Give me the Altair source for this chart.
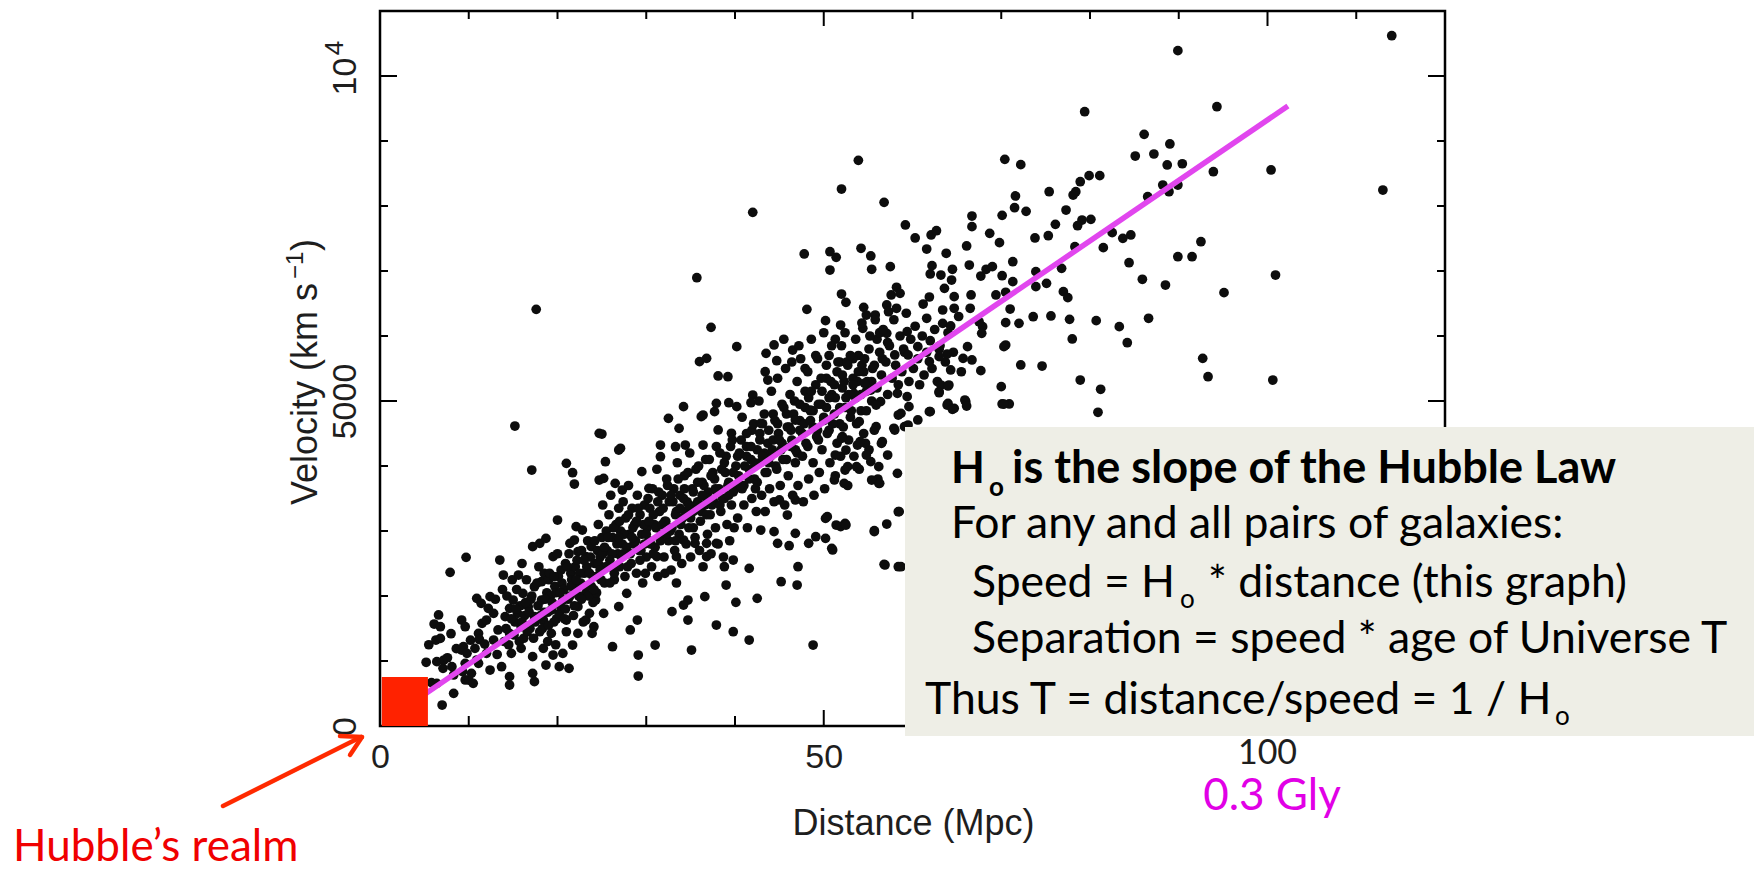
import altair as alt
import pandas as pd

# ---------------- axis values ----------------
x_label_values = [0, 50]
y_label_values = [0, 5000, 10000]
x_minor_ticks = [10, 20, 30, 40, 60, 70, 80, 90, 110]
x_major_ticks = [50, 100]
y_minor_ticks = [1000, 2000, 3000, 4000, 6000, 7000, 8000, 9000]
y_major_ticks = [5000, 10000]

# ---------------- fitted Hubble line (end points) ----------------
line_dist = [4.5, 102.3]
line_vel = [440, 9538]

# ---------------- "Hubble's realm" square ----------------
realm_dist = [0.2, 5.4]
realm_vel = [0, 755]

# ---------------- galaxies (distance Mpc, velocity km/s) ----------------
near_pts = [
    (5.2, 980), (5.5, 1250), (5.8, 667), (6.1, 1569), (6.3, 1323), (6.4, 990), (6.4, 656),
    (6.6, 1708), (6.8, 1528), (6.8, 1348), (7.0, 323), (7.1, 887), (7.2, 1015), (7.6, 1050),
    (7.9, 2364), (8.0, 1420), (8.1, 913), (8.3, 785), (8.3, 502), (8.6, 1190), (9.2, 1169),
    (9.2, 1630), (9.3, 836), (9.4, 1220), (9.6, 708), (9.6, 964), (9.6, 1528), (9.7, 2595),
    (9.8, 1118), (10.0, 707), (10.2, 1320), (10.3, 810), (10.5, 656), (10.7, 1195), (10.9, 1015),
    (10.9, 1964), (11.1, 964), (11.1, 1425), (11.2, 1330), (11.4, 1887), (11.5, 1579),
    (11.8, 1260), (12.0, 1118), (12.0, 1630), (12.2, 1810), (12.4, 861), (12.4, 1990),
    (12.8, 1323), (12.8, 1733),
]

inner_pts = [
    (13.0, 1950), (13.2, 1100), (13.3, 1477), (13.5, 2553), (13.7, 912), (13.8, 2100), (13.9, 2323),
    (14.0, 1300), (14.1, 1682), (14.3, 2000), (14.6, 630), (14.6, 759), (14.6, 1425), (14.6, 1810),
    (14.8, 1118), (14.9, 2250), (15.0, 1938), (15.2, 4615), (15.2, 1600), (15.4, 2100), (15.5, 1733),
    (15.6, 2323), (15.8, 1850), (15.9, 1528), (15.9, 1195), (16.0, 2500), (16.1, 2041), (16.2, 1350),
    (16.3, 1700), (16.5, 2250), (16.7, 1836), (16.9, 1500), (17.0, 1950), (17.1, 3938), (17.2, 2759),
    (17.2, 810), (17.2, 1067), (17.4, 682), (17.4, 1682), (17.4, 2143), (17.6, 6410), (17.8, 1850),
    (17.9, 2450), (18.0, 2810), (18.0, 1450), (18.2, 1938), (18.2, 2220), (18.4, 1630), (18.4, 1195),
    (18.5, 2349), (18.7, 2887), (18.7, 938), (18.8, 2050), (18.9, 1300), (19.0, 2250), (19.2, 2000),
    (19.3, 1784), (19.3, 1425), (19.5, 2605), (19.5, 1092), (19.7, 2150), (19.8, 1250), (19.9, 1650),
    (20.0, 3169), (20.0, 2650), (20.2, 1733), (20.2, 913), (20.4, 2400), (20.5, 2200), (20.6, 1938),
    (20.6, 1118), (20.9, 2500), (21.0, 4041), (21.0, 1630), (21.0, 1450), (21.2, 1950), (21.3, 887),
    (21.3, 2650), (21.4, 2810), (21.5, 2349), (21.7, 3897), (21.7, 1246), (21.8, 1700), (21.9, 3723),
    (21.9, 2861), (21.9, 2143), (22.0, 2450), (22.1, 3067), (22.3, 2682), (22.3, 1836), (22.3, 1425),
    (22.6, 2200), (22.8, 3015), (22.9, 1600), (23.0, 2350), (23.2, 2605), (23.2, 2041), (23.2, 1630),
    (23.4, 2850), (23.6, 1733), (23.8, 2759), (23.8, 2150), (23.9, 1425), (24.0, 1900), (24.1, 1528),
    (24.2, 2500), (24.3, 1938), (24.5, 2700), (24.7, 4502), (24.7, 3784),
]

core_pts = [
    (25.0, 4492), (25.2, 3810), (25.4, 4066), (26.5, 3733), (26.9, 4246), (27.1, 4272), (27.3, 3630),
    (29.5, 3913), (30.3, 3656), (31.6, 4143), (31.6, 4323), (32.5, 4733), (33.3, 4297), (33.7, 4579),
    (34.2, 4913), (34.4, 4323), (35.7, 6897), (36.0, 5605), (36.2, 4759), (36.4, 4784), (36.4, 4323),
    (36.8, 5656), (37.3, 6133), (37.7, 4836), (37.9, 4964), (38.1, 5385), (38.1, 4554), (39.2, 5374),
    (39.3, 4974), (39.6, 4503), (40.2, 5836), (40.2, 4913),
    (25.2, 1733), (26.2, 1220), (26.9, 1836), (27.8, 2041), (28.2, 1477), (29.0, 1630), (29.1, 1092),
    (29.1, 769), (31.0, 1246), (32.9, 1759), (34.7, 1630), (35.1, 1169), (37.9, 1553), (39.8, 1451),
    (36.6, 1990), (34.7, 1938), (34.2, 1861), (39.0, 2169), (33.4, 2200), (36.8, 2810), (35.5, 2810),
    (34.2, 2861), (33.4, 2605), (32.1, 2348), (31.2, 2605), (29.9, 2348), (37.9, 2810), (38.8, 2451),
    (39.8, 2553), (36.8, 2605),
    (24.4, 2300), (24.6, 3100), (24.8, 2600), (25.0, 2900), (25.1, 3400), (25.3, 2200), (25.5, 3000),
    (25.6, 2700), (25.8, 3250), (25.9, 2450), (26.0, 3550), (26.2, 2900), (26.4, 2250), (26.6, 3100),
    (26.8, 2650), (26.9, 3350), (27.0, 2450), (27.1, 3000), (27.3, 2800), (27.4, 3450), (27.6, 2300),
    (27.7, 3200), (27.9, 2650), (28.0, 3700), (28.1, 2950), (28.3, 2500), (28.4, 3350), (28.6, 2800),
    (28.7, 3100), (28.9, 2350), (29.0, 3550), (29.2, 2700), (29.3, 3250), (29.5, 2950), (29.6, 2200),
    (29.8, 3400), (30.0, 2600), (30.1, 3050), (30.3, 2850), (30.4, 3350), (30.6, 2450), (30.7, 3650),
    (30.9, 3100), (31.0, 2750), (31.2, 3950), (31.3, 2300), (31.5, 3300), (31.7, 2950), (31.8, 3550),
    (32.0, 2600), (32.1, 3150), (32.3, 3800), (32.5, 2850), (32.6, 3450), (32.8, 2400), (32.9, 3050),
    (33.1, 3650), (33.2, 2700), (33.4, 3300), (33.5, 4050), (33.7, 2950), (33.8, 3550), (34.0, 2500),
    (34.1, 3200), (34.3, 3850), (34.5, 2800), (34.6, 3450), (34.8, 3050), (34.9, 4200), (35.0, 2600),
    (35.2, 3650), (35.3, 3300), (35.5, 2900), (35.6, 3950), (35.8, 3450), (36.0, 2700), (36.1, 3150),
    (36.3, 3750), (36.4, 2450), (36.6, 3400), (36.7, 4100), (36.9, 2950), (37.0, 3600), (37.2, 3250),
    (37.3, 2650), (37.5, 3900), (37.6, 3450), (37.8, 3050), (37.9, 4300), (38.1, 2800), (38.2, 3650),
    (38.4, 3300), (38.5, 3950), (38.7, 2600), (38.8, 3500), (39.0, 4150), (39.1, 3100), (39.3, 3750),
    (39.4, 2850), (39.6, 3400), (39.7, 4400), (39.9, 3050), (40.0, 3650),
]

dense_pts = [
    (14.2, 1500), (14.5, 1250), (14.8, 1650), (15.1, 1400), (15.3, 1800), (15.7, 1300), (16.0, 1600),
    (16.4, 1900), (16.6, 1450), (16.8, 1750), (17.1, 2000), (17.3, 1350), (17.5, 1600), (17.7, 2200),
    (18.1, 1700), (18.3, 1500), (18.6, 1950), (18.9, 1750), (19.1, 2350), (19.4, 1900), (19.6, 1600),
    (19.8, 2050), (20.1, 2300), (20.3, 1850), (20.7, 2100), (20.8, 1650), (21.1, 2450), (21.4, 2000),
    (21.6, 2250), (21.9, 1850), (22.2, 2550), (22.4, 2000), (22.5, 2350), (22.7, 2700), (23.1, 2150),
    (23.3, 2450), (23.5, 2000), (23.7, 2600), (24.0, 2300), (24.2, 2850), (24.4, 2050), (24.6, 2500),
    (24.9, 2250), (25.1, 2650), (25.4, 2450), (25.7, 2900), (25.9, 2200), (26.1, 2650), (26.3, 3050),
    (26.5, 2450), (26.7, 2800), (27.0, 3150), (27.2, 2600), (27.5, 2950), (27.8, 2750), (28.0, 3250),
    (28.2, 2650), (28.5, 3050), (28.8, 2850), (29.1, 3350), (29.4, 2700), (29.7, 3100), (30.0, 2950),
    (30.2, 3500), (30.5, 2800), (30.8, 3250), (31.1, 3050), (31.4, 3600), (31.6, 2850), (31.9, 3350),
    (32.2, 3150), (32.4, 3700), (32.7, 3000), (33.0, 3450), (33.3, 3250), (33.6, 3800), (33.9, 3100),
    (34.2, 3500), (34.4, 3300), (34.7, 3900), (35.0, 3200), (35.3, 3600), (35.6, 3400), (35.9, 4000),
    (36.2, 3300), (36.5, 3700), (36.8, 3500), (37.1, 4100), (37.4, 3400), (37.7, 3800), (38.0, 3600),
    (38.3, 4200), (38.6, 3500), (38.9, 3900), (39.2, 3700), (39.5, 4300), (39.8, 3600), (40.1, 4000),
    (40.4, 3850), (40.7, 4400), (41.0, 3700), (41.3, 4150), (41.6, 3950), (41.9, 4550), (42.2, 3800),
    (42.5, 4250), (42.8, 4050), (43.1, 4650), (43.4, 3900), (43.7, 4350), (44.0, 4150), (44.3, 4800),
    (44.6, 4000), (44.9, 4500), (45.2, 4250), (45.5, 4900), (45.8, 4100), (46.1, 4600), (46.4, 4400),
    (46.7, 5000), (47.0, 4200), (47.3, 4700), (47.6, 4500), (47.9, 5150), (48.2, 4300), (48.5, 4850),
    (48.8, 4600), (49.1, 5250), (49.4, 4400), (49.7, 4950), (50.0, 4700), (50.3, 5350), (50.6, 4550),
    (50.9, 5100), (51.2, 4800), (51.5, 5450), (51.8, 4650), (52.1, 5200), (52.4, 4900), (52.7, 5550),
    (53.0, 4750), (53.3, 5350), (53.6, 5050), (53.9, 5700), (54.2, 4850), (54.5, 5450), (54.8, 5150),
    (55.1, 5800), (55.4, 5300), (55.7, 5550), (56.0, 5950), (56.6, 5650), (57.2, 5900),
    (18.5, 1750), (19.0, 1550), (19.6, 2300), (20.3, 2050), (20.9, 1800), (21.5, 2150), (22.1, 2250),
    (22.7, 1950), (23.0, 2550), (23.6, 2350), (24.1, 2100), (24.8, 2400), (25.3, 2750), (25.9, 2550),
    (26.4, 2350), (26.9, 2900), (27.4, 2650), (27.9, 2450), (28.4, 2900), (28.9, 3150), (29.3, 2550),
    (29.8, 2800), (30.3, 3150), (30.8, 2650), (31.3, 3450), (31.8, 3100), (32.3, 2950), (32.8, 3550),
    (33.3, 2850), (33.8, 3350), (34.3, 3650), (34.8, 3400), (35.3, 3050), (35.8, 3750), (36.3, 3550),
    (36.8, 3250), (37.3, 3850), (37.8, 3650), (38.3, 3400), (38.8, 4050), (39.3, 3550), (39.8, 3900),
    (40.3, 4150), (40.8, 3650), (41.3, 4300), (41.8, 4100), (42.3, 3650), (42.8, 4500), (43.3, 4200),
    (43.8, 4050), (44.3, 4400), (44.8, 4650), (45.3, 4350), (45.8, 4800), (46.3, 4550), (46.8, 4250),
    (47.3, 4950), (47.8, 4650), (48.3, 5050), (48.8, 4850), (49.3, 4550), (49.8, 5150), (50.3, 4900),
    (50.8, 5300), (51.3, 5050), (51.8, 5600), (52.3, 5300), (52.8, 5100), (53.3, 5650), (53.8, 5300),
    (54.3, 5550),
]

mid_pts = [
    (40.1, 1902), (42.5, 1964), (41.6, 2425), (41.6, 1323), (42.9, 3015), (44.4, 2990), (44.8, 2810),
    (45.2, 2220), (46.1, 2774), (46.8, 2964), (47.0, 2169), (47.1, 2451), (48.3, 2810), (48.8, 1246),
    (49.1, 2912), (50.2, 3194), (50.9, 2733), (51.9, 3067), (52.4, 3118), (55.7, 3005), (56.9, 2477),
    (58.4, 2451), (57.1, 3107), (58.4, 3297), (50.2, 2887), (51.0, 2708), (51.4, 3092), (52.5, 3092),
    (55.7, 2990), (56.8, 2487), (58.7, 2451), (50.4, 3221), (45.9, 3246), (46.8, 3477), (45.0, 3477),
    (58.5, 3298),
    (42.0, 7902), (43.5, 5733), (44.4, 5862), (44.7, 5620), (43.4, 5451), (43.7, 5323), (42.0, 5092),
    (41.8, 4974), (46.5, 5784), (47.8, 7262), (48.1, 6410), (50.2, 6236), (50.7, 7297), (50.7, 7015),
    (51.4, 7210), (51.9, 6169), (52.0, 6646), (52.5, 6518), (52.0, 8261), (53.9, 8702), (54.2, 7349),
    (54.4, 6118), (54.5, 6441), (54.8, 6323), (55.3, 7231), (55.4, 7026), (55.8, 6323), (56.3, 6051),
    (56.8, 8056), (57.1, 6041), (57.1, 6477), (57.3, 6374), (57.5, 7067), (57.6, 6631), (58.2, 6749),
    (58.2, 6426), (58.6, 6656),
    (45.5, 5950), (46.4, 5600), (47.2, 5850), (47.9, 5500), (48.6, 5950), (49.3, 5650), (50.0, 6050),
    (50.6, 5700), (51.3, 5950), (52.0, 5850), (52.6, 5600),
    (40.3, 3200), (40.5, 4200), (40.6, 3700), (40.8, 4750), (41.0, 3400), (41.1, 4000), (41.3, 4500),
    (41.4, 3050), (41.6, 3800), (41.8, 4300), (41.9, 3500), (42.1, 4650), (42.2, 4050), (42.4, 3300),
    (42.5, 3750), (42.7, 5000), (42.8, 4400), (43.0, 3550), (43.1, 4150), (43.3, 4800), (43.4, 3300),
    (43.6, 3900), (43.8, 4550), (43.9, 3650), (44.1, 5150), (44.2, 4250), (44.4, 3450), (44.5, 4700),
    (44.7, 3950), (44.8, 5350), (45.0, 4400), (45.1, 3700), (45.3, 4950), (45.4, 4100), (45.6, 3400),
    (45.7, 5500), (45.9, 4600), (46.0, 3850), (46.2, 5100), (46.3, 4300), (46.5, 3550), (46.6, 4800),
    (46.8, 4050), (47.0, 5300), (47.1, 3700), (47.3, 4550), (47.4, 5650), (47.6, 4150), (47.7, 3450),
    (47.9, 4900), (48.0, 4350), (48.2, 5450), (48.3, 3800), (48.5, 4700), (48.6, 5150), (48.8, 4050),
    (48.9, 3550), (49.1, 5700), (49.2, 4450), (49.4, 4950), (49.5, 3900), (49.7, 5350), (49.8, 4250),
    (50.0, 4750), (50.1, 3650), (50.3, 5550), (50.4, 4500), (50.6, 5050), (50.7, 4050), (50.9, 5850),
    (51.0, 4650), (51.2, 5250), (51.3, 3850), (51.5, 4350), (51.6, 5600), (51.8, 4900), (51.9, 4150),
    (52.1, 5400), (52.2, 4600), (52.4, 6050), (52.5, 5050), (52.7, 3700), (52.8, 4400), (53.0, 5700),
    (53.1, 4850), (53.3, 5250), (53.4, 4150), (53.6, 5950), (53.7, 4650), (53.9, 5450), (54.0, 3950),
    (54.2, 5100), (54.3, 6200), (54.5, 4500), (54.6, 5650), (54.8, 4850), (54.9, 5300), (55.1, 4250),
    (55.2, 6000), (55.4, 5000), (55.5, 5500), (55.7, 4550), (55.8, 6250), (56.0, 5200), (56.1, 3800),
    (56.3, 5750),
    (63.0, 5144), (64.1, 5246), (64.0, 4964), (64.7, 4887), (66.0, 4990), (61.9, 4836), (60.6, 4708),
    (59.4, 5067), (59.6, 4913), (58.3, 5118), (58.7, 4810), (56.4, 4990), (55.9, 4938), (55.3, 5169),
    (54.6, 5272), (53.4, 5118), (54.0, 4682), (55.9, 4605), (57.9, 4580), (59.1, 4605), (52.1, 4451),
    (53.8, 4323), (54.7, 4349), (56.6, 4374), (57.2, 4169), (55.3, 4067), (56.2, 3990), (58.3, 3887),
    (56.2, 3733), (52.5, 4246), (52.7, 3990), (52.3, 3733), (51.2, 3785),
    (58.4, 4784), (59.5, 4630), (58.0, 4553), (56.5, 4348), (54.1, 4374), (54.8, 4169), (52.0, 4425),
    (51.3, 4169), (52.4, 3938), (53.7, 3989), (55.4, 3784), (56.3, 3733), (48.5, 4861), (46.8, 4707),
    (42.9, 4656),
]

far_pts = [
    (56.5, 5400), (56.7, 6100), (57.0, 5600), (57.2, 5100), (57.4, 5850), (57.7, 5350), (57.9, 6250),
    (58.1, 5550), (58.4, 5250), (58.6, 6000), (58.8, 5450), (59.1, 5750), (59.3, 6350), (59.6, 5300),
    (59.8, 5950), (60.1, 5500), (60.3, 6150), (60.6, 5650), (60.8, 5250), (61.1, 6000), (61.3, 5400),
    (61.6, 5750), (61.9, 6600), (62.2, 5500), (62.5, 6100), (62.8, 5300), (63.1, 5850), (63.4, 6400),
    (63.7, 5600), (64.0, 6050), (64.6, 5750), (65.2, 6300), (65.5, 5450),
    (89.9, 10390), (79.4, 9451), (86.1, 9102), (85.1, 8769), (87.2, 8800), (89.0, 8954), (88.7, 8631),
    (90.4, 8650), (70.4, 8718), (72.2, 8636), (81.1, 8467), (79.9, 8467), (78.9, 8374), (78.4, 8220),
    (78.1, 8169), (75.4, 8220), (71.6, 8154), (71.5, 7974), (72.8, 7918), (70.1, 7856), (66.7, 7846),
    (66.7, 7682), (77.3, 7938), (76.1, 7718), (79.1, 7784), (80.1, 7795), (78.6, 7697), (75.3, 7543),
    (73.8, 7508), (68.7, 7579), (69.8, 7436), (66.1, 7385), (59.2, 7708), (60.3, 7508), (62.1, 7554),
    (62.7, 7620), (61.6, 7338), (63.8, 7272), (82.5, 7590), (83.7, 7502), (84.6, 7554), (86.5, 8143),
    (88.2, 8323), (89.9, 7220), (84.4, 7128), (81.5, 7359), (78.3, 7374), (85.9, 6872), (88.5, 6784),
    (86.6, 6272), (83.3, 6144), (84.2, 5897), (80.7, 6236), (77.7, 6256), (78.0, 5954), (75.6, 6308),
    (73.6, 6297), (78.9, 5323), (81.2, 5180), (80.9, 4826), (72.2, 5554), (74.6, 5538), (70.0, 5221),
    (70.1, 4954), (70.9, 4954), (76.8, 7041), (77.0, 6682), (77.5, 6590), (75.1, 6810), (73.9, 6759),
    (73.9, 6990), (71.3, 7143), (71.3, 6836), (70.1, 6928), (70.5, 6672), (69.4, 6631), (71.0, 6415),
    (70.5, 6205), (72.0, 6195), (70.5, 5861), (70.3, 5836), (67.9, 6144), (67.8, 6041), (67.5, 6220),
    (66.5, 6426), (66.6, 6631), (64.7, 6605), (64.7, 6426), (63.6, 6733), (64.4, 6861), (64.5, 7026),
    (63.2, 6938), (62.0, 6954), (62.2, 7082), (66.4, 7092), (67.7, 6923), (68.3, 7026), (69.0, 7067),
    (61.2, 6492), (61.6, 6272), (63.4, 6195), (64.3, 6154), (66.2, 5836), (65.7, 5656), (66.7, 5631),
    (67.7, 5467), (63.9, 5723), (64.3, 5477), (63.2, 5246), (64.0, 5231), (63.0, 5128), (63.9, 4938),
    (64.5, 4872), (65.9, 5015), (66.1, 4923), (62.0, 4836), (62.0, 5928), (63.0, 5795), (63.0, 5682),
    (61.9, 5605), (60.6, 5836), (59.4, 6067), (59.0, 5800), (59.5, 5708), (58.0, 5708), (70.3, 4953),
    (114.0, 10620), (94.3, 9528), (93.9, 8528), (100.4, 8554), (88.9, 8220), (89.9, 8323),
    (113.0, 8246), (92.5, 7451), (91.5, 7220), (100.9, 6938), (95.1, 6667), (92.7, 5656),
    (93.3, 5374), (100.6, 5323),
]

galaxies = pd.DataFrame(near_pts + inner_pts + core_pts + dense_pts + mid_pts + far_pts,
                        columns=["dist", "vel"])
line_df = pd.DataFrame({"dist": line_dist, "vel": line_vel})
realm_df = pd.DataFrame({"dist": [realm_dist[0]], "d2": [realm_dist[1]],
                         "vel": [realm_vel[0]], "v2": [realm_vel[1]]})
one = pd.DataFrame({"k": [0]})

# ---------------- layout ----------------
W, H = 1065, 715
LABEL_FONT = "Liberation Sans"
TXT_FONT = "Lato"
INK = "#1e1e1e"

xs = alt.Scale(domain=[0, 120], nice=False, zero=False)
ys = alt.Scale(domain=[0, 11000], nice=False, zero=False)

x_axis = alt.Axis(values=x_label_values, ticks=False, tickSize=0, domain=False, grid=False,
                  labelFont=LABEL_FONT, labelFontSize=34, labelColor=INK, labelPadding=41,
                  labelBaseline="alphabetic", labelAlign="center", labelFlush=False,
                  labelOverlap=False, title="Distance (Mpc)", titleFont=LABEL_FONT,
                  titleFontSize=36, titleFontWeight="normal", titleColor=INK,
                  titleX=533, titleY=108, titleBaseline="alphabetic", titleAlign="center")
y_axis = alt.Axis(values=y_label_values, format="d",
                  labelExpr="datum.value == 10000 ? '10' : datum.label",
                  ticks=False, tickSize=0, domain=False, grid=False, labelAngle=270,
                  labelAlign="center", labelBaseline="alphabetic", labelPadding=25,
                  labelFont=LABEL_FONT, labelFontSize=34, labelColor=INK, labelFlush=False,
                  labelOverlap=False, title=None)


def X(field):
    return alt.X(field, type="quantitative", scale=xs, axis=x_axis)


def Y(field):
    return alt.Y(field, type="quantitative", scale=ys, axis=y_axis)


points = alt.Chart(galaxies).mark_circle(size=95, color="#0d0d0d", opacity=1).encode(
    x=X("dist"), y=Y("vel"))

frame = alt.Chart(one).mark_rect(filled=False, stroke="black", strokeWidth=2.5).encode(
    x=alt.value(0), x2=alt.value(W), y=alt.value(0), y2=alt.value(H))


def xticks(vals, length_bottom, length_top):
    d = pd.DataFrame({"dist": vals})
    b = alt.Chart(d).mark_rule(color="black", strokeWidth=2).encode(
        x=X("dist"), y=alt.value(H), y2=alt.value(H - length_bottom))
    t = alt.Chart(d).mark_rule(color="black", strokeWidth=2).encode(
        x=X("dist"), y=alt.value(0), y2=alt.value(length_top))
    return [b, t]


def yticks(vals, length):
    d = pd.DataFrame({"vel": vals})
    lft = alt.Chart(d).mark_rule(color="black", strokeWidth=2).encode(
        y=Y("vel"), x=alt.value(0), x2=alt.value(length))
    rgt = alt.Chart(d).mark_rule(color="black", strokeWidth=2).encode(
        y=Y("vel"), x=alt.value(W), x2=alt.value(W - length))
    return [lft, rgt]


tick_layers = (xticks(x_minor_ticks, 10, 8) + xticks(x_major_ticks, 16, 15)
               + yticks(y_minor_ticks, 8) + yticks(y_major_ticks, 17))

hubble_line = alt.Chart(line_df).mark_line(color="#E146EE", strokeWidth=5.5).encode(
    x=X("dist"), y=Y("vel"))

realm = alt.Chart(realm_df).mark_rect(color="#FF2200").encode(
    x=X("dist"), x2="d2:Q", y=Y("vel"), y2="v2:Q")

box = alt.Chart(one).mark_rect(color="#EEEEE6").encode(
    x=alt.value(525), x2=alt.value(1374), y=alt.value(416), y2=alt.value(725))


def txt(text, x, y, size, weight="normal", color="black", align="left", font=TXT_FONT,
        angle=0, baseline="alphabetic"):
    return alt.Chart(one).mark_text(text=text, align=align, baseline=baseline, font=font,
                                    fontSize=size, fontWeight=weight, color=color,
                                    angle=angle).encode(
        x=alt.value(x), y=alt.value(y))


# superscript "4" of the 10^4 tick label (rotated like the axis labels)
sup4 = txt("4", -45, 37, 26, color=INK, align="center", font=LABEL_FONT, angle=270,
           baseline="middle")

# rotated y-axis title with a real superscript
y_title = [
    txt("Velocity (km s", -63, 494, 36, color=INK, font=LABEL_FONT, angle=270),
    txt("\u22121", -77, 268, 24, color=INK, font=LABEL_FONT, angle=270),
    txt(")", -63, 240, 36, color=INK, font=LABEL_FONT, angle=270),
]

box_texts = [
    txt("H", 571, 472, 44, "bold"),
    txt("o", 609, 485, 26, "bold"),
    txt("is the slope of the Hubble Law", 632, 472, 45, "bold"),
    txt("For any and all pairs of galaxies:", 571, 527, 44.5),
    txt("Speed = H", 592, 586, 44.5),
    txt("o", 800, 597, 26),
    txt("* distance (this graph)", 828, 586, 44.5),
    txt("Separation = speed * age of Universe T", 592, 642, 44.5),
    txt("Thus T = distance/speed = 1 / H", 545, 703, 44.5),
    txt("o", 1175, 714, 26),
]

label_100 = alt.Chart(pd.DataFrame({"dist": [100]})).mark_text(
    text="100", align="center", baseline="alphabetic", font=TXT_FONT, fontSize=34,
    color=INK).encode(x=X("dist"), y=alt.value(753))

gly = txt("0.3 Gly", 892, 799, 44, color="#E100E6", align="center")

ARROW = "#FF2A00"
arrow = [
    alt.Chart(one).mark_rule(color=ARROW, strokeWidth=4.5, strokeCap="round").encode(
        x=alt.value(-157), y=alt.value(795), x2=alt.value(-19), y2=alt.value(726)),
    alt.Chart(one).mark_rule(color=ARROW, strokeWidth=4.5, strokeCap="round").encode(
        x=alt.value(-18), y=alt.value(726), x2=alt.value(-40), y2=alt.value(725)),
    alt.Chart(one).mark_rule(color=ARROW, strokeWidth=4.5, strokeCap="round").encode(
        x=alt.value(-18), y=alt.value(726), x2=alt.value(-30), y2=alt.value(744)),
]

realm_text = txt("Hubble\u2019s realm", -367, 850, 44, color="#F00000")

chart = alt.layer(
    points, frame, *tick_layers, hubble_line, realm, box, *box_texts,
    label_100, gly, sup4, *y_title, *arrow, realm_text
).properties(
    width=W, height=H,
    autosize=alt.AutoSizeParams(type="none"),
    padding={"left": 380, "top": 11, "right": 311, "bottom": 144},
    background="white",
).configure_view(stroke=None)

chart.save("out.html", embed_options={"renderer": "svg", "actions": False})
